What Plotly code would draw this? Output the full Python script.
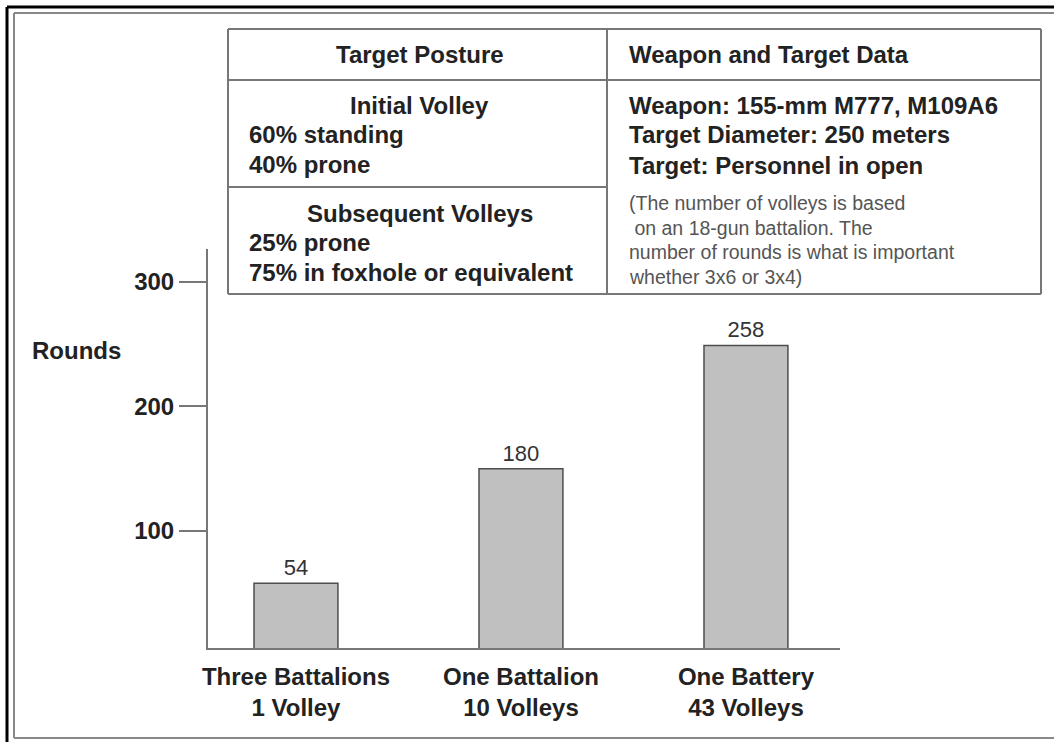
import plotly.graph_objects as go

# ---- data ----
categories = ["Three Battalions<br>1 Volley", "One Battalion<br>10 Volleys", "One Battery<br>43 Volleys"]
bar_heights = [58, 150, 249]          # bar heights as drawn in the picture
value_labels = ["54", "180", "258"]   # printed values
y_ticks = [100, 200, 300]
y_title = "Rounds"

posture_header = "Target Posture"
weapon_header = "Weapon and Target Data"
initial_title = "Initial Volley"
initial_lines = ["60% standing", "40% prone"]
subsequent_title = "Subsequent Volleys"
subsequent_lines = ["25% prone", "75% in foxhole or equivalent"]
weapon_lines = ["Weapon: 155-mm M777, M109A6", "Target Diameter: 250 meters", "Target: Personnel in open"]
note_lines = ["(The number of volleys is based", " on an 18-gun battalion. The",
              "number of rounds is what is important", "whether 3x6 or 3x4)"]

# ---- layout geometry (pixels) ----
W, H = 1054, 742
L, R, T, B = 208, 840, 249, 648
PW, PH = R - L, B - T


def X(px):
    return (px - L) / PW


def Y(py):
    return (B - py) / PH


FONT = "Liberation Sans, Arial, Helvetica, sans-serif"
TXT = "#222222"
LINE = "#777777"

fig = go.Figure()
fig.add_trace(go.Bar(
    x=[0, 1, 2], y=bar_heights, width=0.373,
    marker=dict(color="#c0c0c0", line=dict(color="#4d4d4d", width=1.5)),
    text=value_labels, textposition="outside", cliponaxis=False,
    textfont=dict(family=FONT, size=22, color="#333333"),
    hoverinfo="skip",
))

shapes = []


def seg(x0, y0, x1, y1, color=LINE, width=2):
    shapes.append(dict(type="line", xref="paper", yref="paper",
                       x0=X(x0), y0=Y(y0), x1=X(x1), y1=Y(y1),
                       line=dict(color=color, width=width), layer="above"))


# outer frame
seg(7, 7, W + 5, 7, "#000000", 3)
seg(7, 7, 7, H + 5, "#000000", 3)
seg(14, 13, W + 5, 13, "#888888", 2)
seg(14, 13, 14, 738, "#888888", 2)
seg(14, 738, W + 5, 738, "#888888", 2)

# table
tx0, tx1, tmid = 228, 1041, 607
ty0, ty1, th, trow = 29, 294, 80, 187
seg(tx0, ty0, tx1, ty0)
seg(tx0, ty1, tx1, ty1)
seg(tx0, ty0, tx0, ty1)
seg(tx1, ty0, tx1, ty1)
seg(tmid, ty0, tmid, ty1)
seg(tx0, th, tx1, th)
seg(tx0, trow, tmid, trow)

annotations = []


def txt(s, x, y, anchor="left", size=24, bold=True, color=TXT):
    annotations.append(dict(text=s, x=X(x), y=Y(y), xref="paper", yref="paper",
                            xanchor=anchor, yanchor="middle", showarrow=False,
                            font=dict(family=FONT, size=size, color=color,
                                      weight="bold" if bold else "normal")))


lc = (tx0 + tmid) / 2
txt(posture_header, lc + 2, 55, "center")
txt(weapon_header, 627, 55)
txt(initial_title, lc + 2, 105, "center")
for i, s in enumerate(initial_lines):
    txt(s, 247, 135 + 29 * i)
txt(subsequent_title, lc + 2, 213, "center")
for i, s in enumerate(subsequent_lines):
    txt(s, 247, 243 + 29 * i)
for i, s in enumerate(weapon_lines):
    txt(s, 627, 105 + 30 * i)
for i, s in enumerate(note_lines):
    txt(s, 627, 203 + 24.7 * i, size=19.5, bold=False, color="#555555")

txt(y_title, 76, 350, "center")

fig.update_layout(
    width=W, height=H,
    margin=dict(l=L, r=W - R, t=T, b=H - B, pad=0),
    paper_bgcolor="white", plot_bgcolor="white",
    showlegend=False,
    shapes=shapes, annotations=annotations,
    xaxis=dict(range=[-0.391, 2.418], tickvals=[0, 1, 2], ticktext=categories,
               showline=True, linecolor=LINE, linewidth=2, ticks="",
               showgrid=False, zeroline=False, ticklabelstandoff=6,
               tickfont=dict(family=FONT, size=24, color=TXT, weight="bold")),
    yaxis=dict(range=[6, 326.5], tickvals=y_ticks, showline=True, linecolor=LINE,
               linewidth=2, ticks="outside", ticklen=27, tickwidth=2, tickcolor=LINE,
               showgrid=False, zeroline=False,
               tickfont=dict(family=FONT, size=24, color=TXT, weight="bold")),
    font=dict(family=FONT),
)

fig.write_html("out.html", config={"displayModeBar": False},
               post_script="document.body.style.margin='0';document.body.style.padding='0';")
